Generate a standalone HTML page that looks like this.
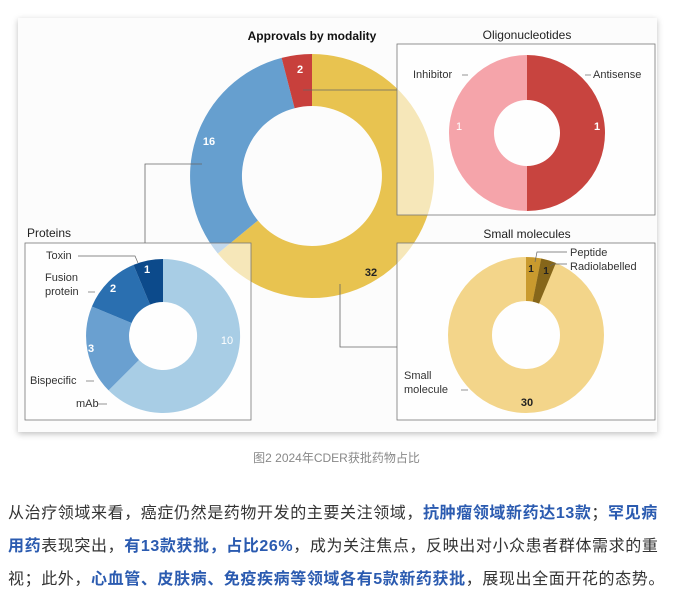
<!DOCTYPE html>
<html><head><meta charset="utf-8"><style>
body{margin:0;width:673px;height:606px;background:#fff;overflow:hidden;position:relative;font-family:"Liberation Sans","Noto Sans CJK SC",sans-serif}
.card{position:absolute;left:18px;top:18px;width:639px;height:414px;background:#fcfcfc;box-shadow:0 2px 6px rgba(0,0,0,.25)}
.cap{position:absolute;top:449px;left:0;width:673px;text-align:center;font-size:12px;color:#888}
.l{position:absolute;left:8px;font-size:16px;color:#333;white-space:nowrap;letter-spacing:0.6px}
b{color:#2b5bb0}
</style></head><body>
<div class="card"></div>
<svg style="position:absolute;left:0;top:0" width="673" height="440" font-family="Liberation Sans, sans-serif">
<g transform="translate(312,176)">
<path d="M0,-122 A122,122 0 1,1 -94.2,77.5 L-54.1,44.5 A70,70 0 1,0 0,-70Z" fill="#e8c350"/>
<path d="M-94.2,77.5 A122,122 0 0,1 -30.4,-118.1 L-17.4,-67.8 A70,70 0 0,0 -54.1,44.5Z" fill="#669fcf"/>
<path d="M-30.4,-118.1 A122,122 0 0,1 0,-122 L0,-70 A70,70 0 0,0 -17.4,-67.8Z" fill="#c8403c"/>
</g>
<text x="300" y="73" font-size="11" font-weight="bold" fill="#fff" text-anchor="middle">2</text>
<text x="209" y="145" font-size="11" font-weight="bold" fill="#fff" text-anchor="middle">16</text>
<text x="371" y="276" font-size="11" font-weight="bold" fill="#222" text-anchor="middle">32</text>
<text x="312" y="40" font-size="12" font-weight="bold" fill="#111" text-anchor="middle">Approvals by modality</text>
<g stroke="#666" stroke-width="0.8" fill="none">
<path d="M303,90 H397"/><path d="M202,164 H145 V243"/><path d="M340,284 V347 H397"/>
</g>
<rect x="397" y="44" width="258" height="171" fill="rgba(255,255,255,0.6)" stroke="#777" stroke-width="0.8"/>
<rect x="397" y="243" width="258" height="177" fill="rgba(255,255,255,0.6)" stroke="#777" stroke-width="0.8"/>
<rect x="25" y="243" width="226" height="177" fill="rgba(255,255,255,0.6)" stroke="#777" stroke-width="0.8"/>
<text x="527" y="39" font-size="12" fill="#222" text-anchor="middle">Oligonucleotides</text>
<text x="527" y="238" font-size="12" fill="#222" text-anchor="middle">Small molecules</text>
<text x="27" y="237" font-size="12" fill="#222">Proteins</text>
<g transform="translate(527,133)">
<path d="M0,-78 A78,78 0 0,0 0,78 L0,33 A33,33 0 0,1 0,-33Z" fill="#f5a4aa"/>
<path d="M0,-78 A78,78 0 0,1 0,78 L0,33 A33,33 0 0,0 0,-33Z" fill="#c8443f"/>
</g>
<text x="459" y="130" font-size="11" fill="#fff" text-anchor="middle">1</text>
<text x="597" y="130" font-size="11" font-weight="bold" fill="#fff" text-anchor="middle">1</text>
<text x="413" y="78" font-size="11" fill="#333">Inhibitor</text>
<text x="593" y="78" font-size="11" fill="#333">Antisense</text>
<g stroke="#666" stroke-width="0.7"><path d="M462,75 H468"/><path d="M585,75 H591"/></g>
<g transform="translate(526,335)">
<circle r="56" fill="none" stroke="#f3d58a" stroke-width="44"/>
<path d="M0,-78 A78,78 0 0,1 15.2,-76.5 L6.6,-33.4 A34,34 0 0,0 0,-34Z" fill="#c99a2e"/>
<path d="M15.2,-76.5 A78,78 0 0,1 29.9,-72 L13,-31.4 A34,34 0 0,0 6.6,-33.4Z" fill="#86661a"/>
</g>
<text x="531" y="272" font-size="10" font-weight="bold" fill="#222" text-anchor="middle">1</text>
<text x="546" y="274" font-size="10" font-weight="bold" fill="#222" text-anchor="middle">1</text>
<text x="527" y="406" font-size="11" font-weight="bold" fill="#222" text-anchor="middle">30</text>
<text x="570" y="256" font-size="11" fill="#333">Peptide</text>
<text x="570" y="270" font-size="11" fill="#333">Radiolabelled</text>
<text x="404" y="379" font-size="11" fill="#333">Small</text>
<text x="404" y="393" font-size="11" fill="#333">molecule</text>
<g stroke="#666" stroke-width="0.7" fill="none"><path d="M535,262 L537,252 H567"/><path d="M550,266 L553,264 H567"/><path d="M461,390 H468"/></g>
<g transform="translate(163,336)">
<path d="M0,-77 A77,77 0 1,1 -54.4,54.4 L-24,24 A34,34 0 1,0 0,-34Z" fill="#a8cde5"/>
<path d="M-54.4,54.4 A77,77 0 0,1 -71.1,-29.5 L-31.4,-13 A34,34 0 0,0 -24,24Z" fill="#6aa0d0"/>
<path d="M-71.1,-29.5 A77,77 0 0,1 -29.5,-71.1 L-13,-31.4 A34,34 0 0,0 -31.4,-13Z" fill="#2a6fb0"/>
<path d="M-29.5,-71.1 A77,77 0 0,1 0,-77 L0,-34 A34,34 0 0,0 -13,-31.4Z" fill="#0c4a8b"/>
</g>
<text x="147" y="273" font-size="11" font-weight="bold" fill="#fff" text-anchor="middle">1</text>
<text x="113" y="292" font-size="11" font-weight="bold" fill="#fff" text-anchor="middle">2</text>
<text x="91" y="352" font-size="11" font-weight="bold" fill="#fff" text-anchor="middle">3</text>
<text x="227" y="344" font-size="11" fill="#fff" text-anchor="middle">10</text>
<text x="46" y="259" font-size="11" fill="#333">Toxin</text>
<text x="45" y="281" font-size="11" fill="#333">Fusion</text>
<text x="45" y="295" font-size="11" fill="#333">protein</text>
<text x="30" y="384" font-size="11" fill="#333">Bispecific</text>
<text x="76" y="407" font-size="11" fill="#333">mAb</text>
<g stroke="#666" stroke-width="0.7" fill="none"><path d="M78,256 H135 L138,263"/><path d="M88,292 H95"/><path d="M86,381 H94"/><path d="M98,404 H107"/></g>
</svg>
<div class="cap">图2 2024年CDER获批药物占比</div>
<div class="l" style="top:499px">从治疗领域来看，癌症仍然是药物开发的主要关注领域，<b>抗肿瘤领域新药达13款</b>；<b>罕见病</b></div>
<div class="l" style="top:532px"><b>用药</b>表现突出，<b>有13款获批，占比26%</b>，成为关注焦点，反映出对小众患者群体需求的重</div>
<div class="l" style="top:565px">视；此外，<b>心血管、皮肤病、免疫疾病等领域各有5款新药获批</b>，展现出全面开花的态势。</div>
</body></html>
